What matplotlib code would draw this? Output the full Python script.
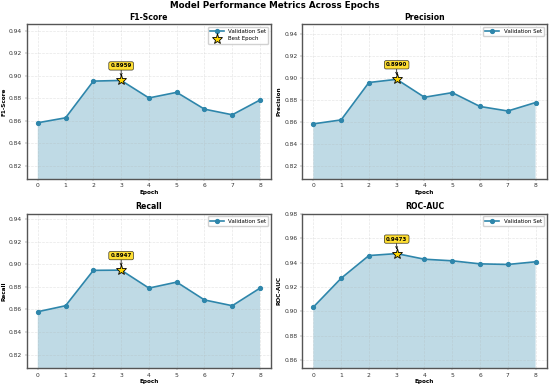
import matplotlib
matplotlib.use("Agg")
import matplotlib.pyplot as plt
import numpy as np

epochs = [0, 1, 2, 3, 4, 5, 6, 7, 8]
f1_vals = [0.8582, 0.8626, 0.8953, 0.8959, 0.8803, 0.8853, 0.8703, 0.8653, 0.8785]
precision_vals = [0.8585, 0.8621, 0.8961, 0.8990, 0.8827, 0.8869, 0.8743, 0.8702, 0.8779]
recall_vals = [0.8579, 0.8632, 0.8945, 0.8947, 0.8788, 0.8841, 0.8683, 0.8632, 0.8788]
rocauc_vals = [0.9035, 0.9271, 0.9457, 0.9473, 0.9427, 0.9414, 0.9389, 0.9384, 0.9406]

metric_names = ["F1-Score", "Precision", "Recall", "ROC-AUC"]
metric_values = [f1_vals, precision_vals, recall_vals, rocauc_vals]
suptitle = "Model Performance Metrics Across Epochs"
series_label = "Validation Set"
best_label = "Best Epoch"

S = 0.397
color = "#2E86AB"

fig, axes = plt.subplots(2, 2, figsize=(5.5, 3.89), dpi=100)
fig.subplots_adjust(left=0.0485, right=0.994, top=0.9375, bottom=0.0535,
                    wspace=0.127, hspace=0.225)

for i, (ax, name, vals) in enumerate(zip(axes.flat, metric_names, metric_values)):
    vals = np.array(vals)
    ax.plot(epochs, vals, marker="o", color=color, linewidth=3 * S,
            markersize=7 * S, label=series_label, zorder=3)
    ax.fill_between(epochs, vals, alpha=0.3, color=color, linewidth=0)
    best = int(np.argmax(vals))
    star_kw = dict(marker="*", color="gold", markersize=20 * S,
                   markeredgecolor="black", markeredgewidth=1.5 * S,
                   linestyle="none", zorder=5)
    if i == 0:
        ax.plot(epochs[best], vals[best], label=best_label, **star_kw)
    else:
        ax.plot(epochs[best], vals[best], **star_kw)
    ax.annotate(f"{vals[best]:.4f}", xy=(epochs[best], vals[best]),
                xytext=(0, 14.5), textcoords="offset pixels",
                ha="center", va="center", fontsize=10 * S, fontweight="bold",
                bbox=dict(boxstyle="round,pad=0.3", facecolor="gold", alpha=0.8,
                          edgecolor="black", linewidth=1.2 * S),
                arrowprops=dict(arrowstyle="->", color="black", lw=1.2 * S,
                                shrinkA=0, shrinkB=3))
    ax.set_title(name, fontsize=14 * S, fontweight="bold", pad=3)
    ax.set_xlabel("Epoch", fontsize=10.5 * S, fontweight="bold", labelpad=1)
    ax.set_ylabel(name, fontsize=10.5 * S, fontweight="bold", labelpad=2)
    ax.set_ylim(vals.min() - 0.05, min(vals.max() + 0.05, 0.98))
    ax.set_xticks(epochs)
    ax.tick_params(labelsize=11 * S, length=3 * S, width=0.6 * S, pad=2,
                   colors="#333333")
    ax.grid(True, alpha=0.3, linestyle="--", linewidth=0.5)
    ax.legend(loc="upper right", fontsize=10 * S, framealpha=0.9,
              borderpad=0.4, handlelength=2.5, labelspacing=0.4)
    for sp in ax.spines.values():
        sp.set_color("#555555")
        sp.set_linewidth(1.0)

fig.suptitle(suptitle, fontsize=16 * S, fontweight="bold", y=0.997)
fig.savefig("out.png", dpi=100)
